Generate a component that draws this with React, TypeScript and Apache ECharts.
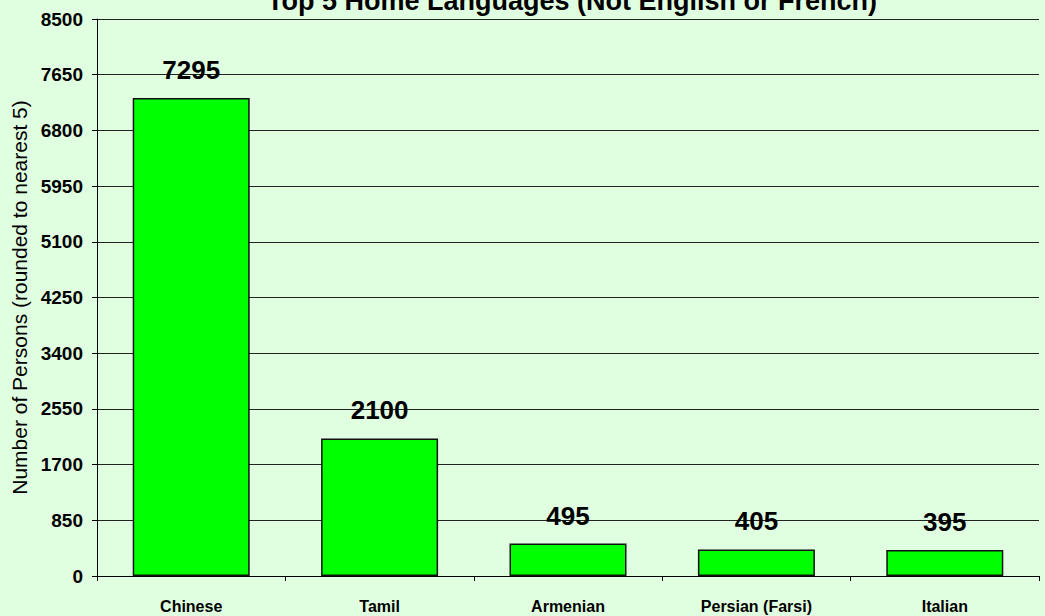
import React, { useEffect, useRef } from "react";
import * as echarts from "echarts";

const categories = ["Chinese", "Tamil", "Armenian", "Persian (Farsi)", "Italian"];
const persons = [7295, 2100, 495, 405, 395];
const yMin = 0;
const yMax = 8500;
const yStep = 850;
const titleText = "Top 5 Home Languages (Not English or French)";
const yName = "Number of Persons (rounded to nearest 5)";

export default function App() {
  const ref = useRef<HTMLDivElement>(null);
  useEffect(() => {
    if (!ref.current) return;
    const chart = echarts.init(ref.current, undefined, { renderer: "svg" });
    chart.setOption({
      animation: false,
      backgroundColor: "#E0FFE0",
      title: {
        text: titleText,
        left: 567,
        textAlign: "center",
        top: -18,
        textStyle: { fontFamily: "Arial, 'Liberation Sans', sans-serif", fontWeight: "bold", fontSize: 27, color: "#000" },
      },
      grid: { left: 97, right: 6, top: 19, bottom: 40, containLabel: false },
      xAxis: {
        type: "category",
        data: categories,
        axisLine: { lineStyle: { color: "#000", width: 1 } },
        axisTick: { show: true, length: 5, alignWithLabel: false, lineStyle: { color: "#000" } },
        axisLabel: {
          margin: 22,
          fontFamily: "'Liberation Sans Narrow', 'Arial Narrow', Arial, sans-serif",
          fontWeight: "bold",
          fontSize: 16,
          color: "#000",
        },
      },
      yAxis: {
        type: "value",
        min: yMin,
        max: yMax,
        interval: yStep,
        name: yName,
        nameLocation: "middle",
        nameGap: 67,
        nameTextStyle: { fontFamily: "Arial, 'Liberation Sans', sans-serif", fontSize: 21, color: "#000" },
        axisLine: { show: true, lineStyle: { color: "#000", width: 1 } },
        axisTick: { show: true, length: 5, lineStyle: { color: "#000" } },
        axisLabel: {
          margin: 14,
          formatter: (v: number) => String(v),
          fontFamily: "Arial, 'Liberation Sans', sans-serif",
          fontWeight: "bold",
          fontSize: 19,
          color: "#000",
        },
        splitLine: { show: true, lineStyle: { color: "#222", width: 1 } },
      },
      series: [
        {
          type: "bar",
          data: persons,
          barWidth: 117,
          itemStyle: { color: "#00FF00", borderColor: "#111", borderWidth: 1.5 },
          label: {
            show: true,
            position: "top",
            distance: 15,
            fontFamily: "Arial, 'Liberation Sans', sans-serif",
            fontWeight: "bold",
            fontSize: 26,
            color: "#000",
          },
        },
      ],
    });
    return () => chart.dispose();
  }, []);
  return (
    <div
      ref={ref}
      style={{ position: "fixed", left: 0, top: 0, width: 1045, height: 616 }}
    />
  );
}
